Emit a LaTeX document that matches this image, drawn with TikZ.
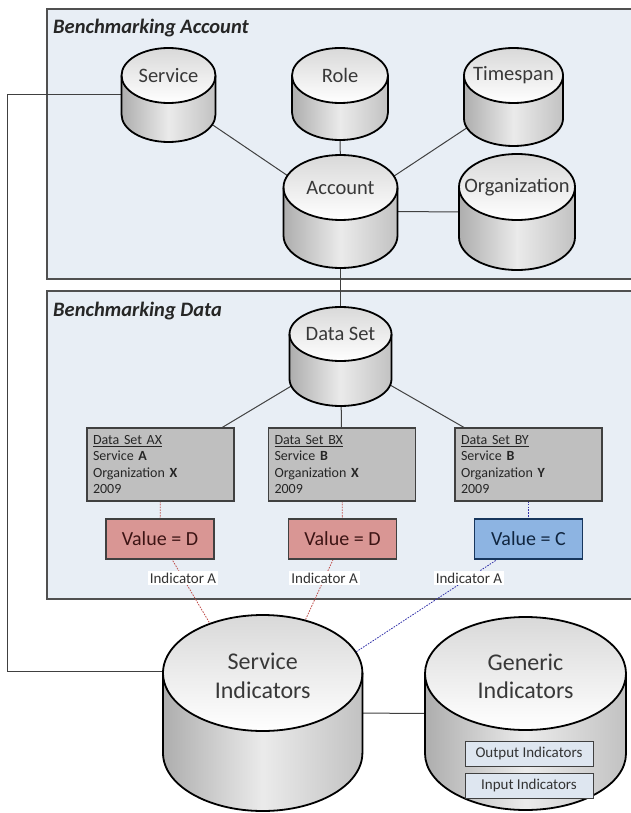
\documentclass[tikz,border=0pt]{standalone}
\usepackage{fontspec}
\setmainfont{Carlito}
\usetikzlibrary{calc}

\pgfdeclarelayer{panel}
\pgfdeclarelayer{links}
\pgfsetlayers{panel,links,main}

\definecolor{panelfill}{RGB}{232,238,245}
\definecolor{panelline}{RGB}{80,80,80}
\definecolor{edge}{RGB}{64,64,64}
\definecolor{setfill}{RGB}{191,191,191}
\definecolor{redfill}{RGB}{217,150,148}
\definecolor{redtext}{RGB}{60,20,20}
\definecolor{bluefill}{RGB}{141,180,226}
\definecolor{bluetext}{RGB}{16,37,63}
\definecolor{blueedge}{RGB}{23,54,93}
\definecolor{redlink}{RGB}{192,80,77}
\definecolor{bluelink}{RGB}{50,50,170}
\definecolor{listfill}{RGB}{222,230,240}

% #1 name, #2 centre x, #3 top, #4 bottom (downwards), #5 x radius, #6 y radius, #7 text style, #8 text
\newcommand\drum[8]{%
  \node[drumbox, minimum width={2*#5}, minimum height={#4-#3}] (#1) at (#2,{-(#3+#4)/2}) {};
  \path[drumbody] (#2-#5,{-(#3+#6)}) -- (#2-#5,{-(#4-#6)})
     arc[start angle=180, end angle=360, x radius=#5, y radius=#6]
     -- (#2+#5,{-(#3+#6)})
     arc[start angle=0, end angle=180, x radius=#5, y radius=#6] -- cycle;
  \path[drumtop] (#2,{-(#3+#6)}) ellipse[x radius=#5, y radius=#6];
  \draw[drumline] (#2-#5,{-(#3+#6)}) -- (#2-#5,{-(#4-#6)})
     arc[start angle=180, end angle=360, x radius=#5, y radius=#6]
     -- (#2+#5,{-(#3+#6)})
     arc[start angle=0, end angle=180, x radius=#5, y radius=#6] -- cycle;
  \draw[drumline] (#2+#5,{-(#3+#6)})
     arc[start angle=0, end angle=-180, x radius=#5, y radius=#6];
  \node[#7] (#1-t) at (#2,{-(#3+#6)}) {#8};
}

\tikzset{
  drumbox/.style={inner sep=0, outer sep=0},
  drumbody/.style={left color=black!32, right color=black!24, middle color=black!8},
  drumtop/.style={top color=black!15, bottom color=white},
  drumline/.style={draw=black, line width=1.8pt, line join=round},
  cyltext/.style={inner sep=0, text=black!78, font=\fontsize{20.5}{24}\selectfont},
  bigtext/.style={inner sep=0, text=black!78, align=center, yshift=-3,
    font=\fontsize{24}{28.5}\selectfont},
  panelbox/.style={draw=panelline, fill=panelfill, line width=1.6pt, inner sep=0, anchor=north west},
  paneltitle/.style={anchor=west, inner sep=0, text=black!85,
    font=\fontsize{20.5}{24}\selectfont\bfseries\itshape},
  setbox/.style={draw=edge, fill=setfill, line width=1.1pt, minimum width=147, minimum height=73,
    text width=135, align=left, inner xsep=6, inner ysep=0, text=black!85,
    font=\fontsize{14}{16.4}\selectfont},
  valbox/.style={minimum width=108, minimum height=40, inner sep=0, line width=1.1pt,
    font=\fontsize{20}{24}\selectfont},
  redval/.style={valbox, fill=redfill, draw=edge, text=redtext},
  blueval/.style={valbox, fill=bluefill, draw=blueedge, text=bluetext},
  listbox/.style={draw=edge, fill=listfill, line width=1pt, minimum width=128, minimum height=25,
    inner sep=0, text=black!80, font=\fontsize{15}{18}\selectfont},
  indlabel/.style={fill=white, inner xsep=2, inner ysep=1.5, text=black!80,
    font=\fontsize{15}{18}\selectfont},
  link/.style={draw=edge, line width=1pt},
  redlinkline/.style={draw=redlink, line width=0.8pt, dash pattern=on 1.6pt off 1.2pt},
  bluelinkline/.style={draw=bluelink, line width=0.8pt, dash pattern=on 1.6pt off 1.2pt},
}

\begin{document}
\begin{tikzpicture}[x=1pt, y=1pt]
\useasboundingbox (0,0) rectangle (630,-813);

% group panels
\begin{pgfonlayer}{panel}
  \node[panelbox, minimum width=600, minimum height=270] (accpanel) at (46,-8) {};
  \node[panelbox, minimum width=600, minimum height=308] (datapanel) at (46,-290) {};
\end{pgfonlayer}
\node[paneltitle] (acctitle) at (53,-28) {Benchmarking Account};
\node[paneltitle] (datatitle) at (53,-311) {Benchmarking Data};

% account entities
\drum{svc}{168.5}{48}{142}{47}{27.5}{cyltext}{Service}
\drum{role}{340}{48}{140}{48}{27.5}{cyltext}{Role}
\drum{time}{513.5}{48}{146}{49.5}{27.5}{cyltext}{Timespan}
\drum{acct}{340.5}{155}{268}{57}{32.5}{cyltext}{Account}
\drum{org}{517}{154}{270}{58}{33}{cyltext}{Organization}

% data sets
\drum{dset}{340.5}{307}{406}{51}{27}{cyltext}{Data Set}
\node[setbox] (ax) at (160.5,-464.5) {\underline{Data Set AX}\\Service \textbf{A}\\Organization \textbf{X}\\2009};
\node[setbox] (bx) at (342,-464.5) {\underline{Data Set BX}\\Service \textbf{B}\\Organization \textbf{X}\\2009};
\node[setbox] (by) at (528.5,-464.5) {\underline{Data Set BY}\\Service \textbf{B}\\Organization \textbf{Y}\\2009};
\node[redval] (vd1) at (160,-539) {Value = D};
\node[redval] (vd2) at (342.5,-539) {Value = D};
\node[blueval] (vc) at (528.5,-539) {Value = C};

% indicator stores
\drum{si}{262.7}{615}{811}{99.7}{58}{bigtext}{Service\\Indicators}
\drum{gi}{525.5}{617}{810}{100.5}{56.5}{bigtext}{Generic\\Indicators}
\node[listbox] (outind) at (529,-753.5) {Output Indicators};
\node[listbox] (inind) at (529,-785.5) {Input Indicators};

\coordinate (bendtop) at (7,-95);
\coordinate (bendbot) at (7,-671);

\begin{pgfonlayer}{links}
  \draw[link] (svc.center) -- (acct.center);
  \draw[link] (role.center) -- (acct.center);
  \draw[link] (time.center) -- (acct.center);
  \draw[link] (org.center) -- (acct.center);
  \draw[link] (acct.center) -- (dset.center);
  \draw[link] (dset.center) -- (ax.center);
  \draw[link] (dset.center) -- (bx.center);
  \draw[link] (dset.center) -- (by.center);
  \draw[link] (svc.center) -- (bendtop) -- (bendbot) -- (bendbot -| si.center);
  \draw[link] (si.center) -- (gi.center);
  \draw[redlinkline] (ax.center) -- (vd1.center);
  \draw[redlinkline] (bx.center) -- (vd2.center);
  \draw[bluelinkline] (by.center) -- (vc.center);
  \draw[redlinkline] (vd1.center) -- (si.center) node[indlabel, pos=0.224] (ind1) {Indicator A};
  \draw[redlinkline] (vd2.center) -- (si.center) node[indlabel, pos=0.224] (ind2) {Indicator A};
  \draw[bluelinkline] (vc.center) -- (si.center) node[indlabel, pos=0.224] (ind3) {Indicator A};
\end{pgfonlayer}
\end{tikzpicture}
\end{document}
